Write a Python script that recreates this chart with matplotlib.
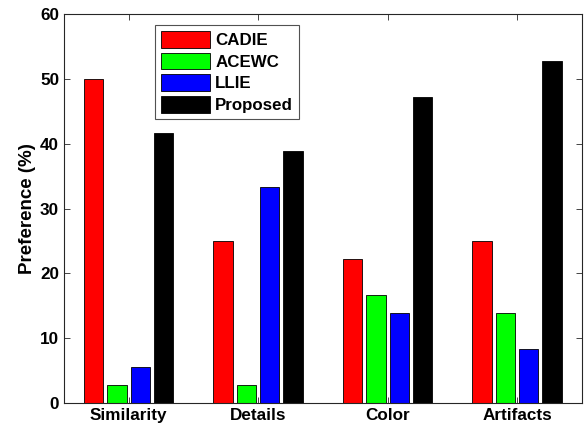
import numpy as np
import matplotlib.pyplot as plt

# -----------------------------
# Data (preference, %)
# -----------------------------
criteria = ['Similarity', 'Details', 'Color', 'Artifacts']
methods = ['CADIE', 'ACEWC', 'LLIE', 'Proposed']
colors = ['#ff0000', '#00ff00', '#0000ff', '#000000']

cadie = [50.0, 25.0, 22.22, 25.0]
acewc = [2.78, 2.78, 16.67, 13.89]
llie = [5.56, 33.33, 13.89, 8.33]
proposed = [41.67, 38.89, 47.22, 52.78]

series = [cadie, acewc, llie, proposed]

plt.rcParams['font.family'] = ['Liberation Sans', 'DejaVu Sans']
plt.rcParams['font.weight'] = 'bold'

fig = plt.figure(figsize=(5.87, 4.29), dpi=100)
ax = fig.add_axes([0.109, 0.0606, 0.882, 0.9067])

x = np.arange(1, len(criteria) + 1)
offsets = [-0.27, -0.09, 0.09, 0.27]
for vals, off, c, name in zip(series, offsets, colors, methods):
    ax.bar(x + off, vals, width=0.15, color=c, edgecolor='black',
           linewidth=0.6, label=name)

ax.set_xlim(0.5, 4.5)
ax.set_ylim(0, 60)
ax.set_xticks(x)
ax.set_xticklabels(criteria)
ax.set_yticks(np.arange(0, 61, 10))
ax.set_ylabel('Preference (%)', fontsize=13.5, fontweight='bold', labelpad=3)
ax.tick_params(direction='in', top=True, right=True, labelsize=12.3,
               color='#262626', length=4, width=0.6)
for sp in ax.spines.values():
    sp.set_color('#262626')
    sp.set_linewidth(0.8)

leg = ax.legend(loc='upper left', bbox_to_anchor=(0.176, 0.972),
                fancybox=False, edgecolor='#262626', fontsize=12.2,
                handlelength=2.9, handleheight=1.15, labelspacing=0.27,
                handletextpad=0.3, borderpad=0.35, borderaxespad=0)
leg.get_frame().set_linewidth(0.8)

plt.savefig('out.png', dpi=100)
